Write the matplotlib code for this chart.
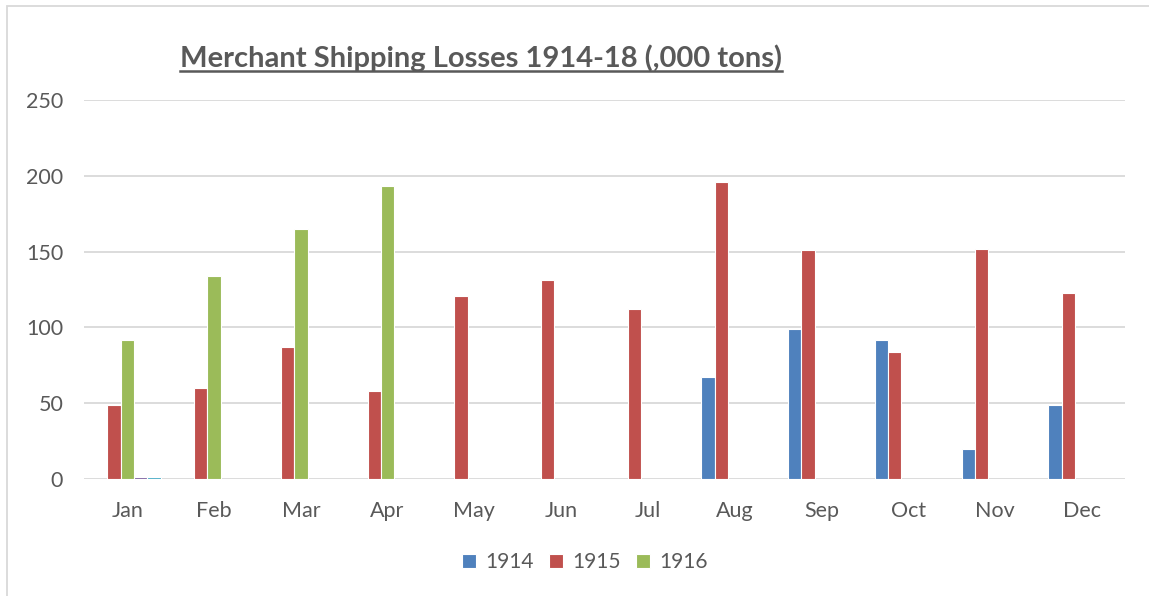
import numpy as np
import matplotlib
matplotlib.use("Agg")
import matplotlib.pyplot as plt
from matplotlib.patches import Rectangle
from matplotlib.lines import Line2D

months = ["Jan", "Feb", "Mar", "Apr", "May", "Jun", "Jul", "Aug", "Sep", "Oct", "Nov", "Dec"]
nan = np.nan
s1914 = [nan, nan, nan, nan, nan, nan, nan, 67, 99, 92, 20, 49]
s1915 = [49, 60, 87, 58, 121, 131, 112, 196, 151, 84, 152, 123]
s1916 = [92, 134, 165, 193, nan, nan, nan, nan, nan, nan, nan, nan]
s1917 = [1, nan, nan, nan, nan, nan, nan, nan, nan, nan, nan, nan]
s1918 = [1, nan, nan, nan, nan, nan, nan, nan, nan, nan, nan, nan]
series_names = ["1914", "1915", "1916", "1917", "1918"]
series_vals = [s1914, s1915, s1916, s1917, s1918]
colors = ["#4F81BD", "#C0504D", "#9BBB59", "#8064A2", "#4BACC6"]
title = "Merchant Shipping Losses 1914-18 (,000 tons)"

plt.rcParams['font.family'] = ['Lato', 'DejaVu Sans']
W, H = 1149, 596
fig = plt.figure(figsize=(W / 100, H / 100), dpi=100)
fig.patch.set_facecolor("white")

# outer chart border
fig.patches.append(Rectangle((7 / W, -0.05), 1.1, 1 - 6 / H + 0.05, transform=fig.transFigure,
                             fill=False, edgecolor="#D9D9D9", linewidth=1.3, zorder=0))

ax = fig.add_axes([84 / W, 1 - 479 / H, (1125 - 84) / W, (479 - 100) / H])
x = np.arange(len(months))
w = 1 / 6.5
handles = []
for i, (name, vals, c) in enumerate(zip(series_names, series_vals, colors)):
    b = ax.bar(x + (i - 2) * w, vals, width=w, color=c, edgecolor="white", linewidth=0.8,
               zorder=3, label=name)
    handles.append(b)

ax.set_xlim(-0.5, len(months) - 0.5)
ax.set_ylim(0, 250)
ax.set_yticks([0, 50, 100, 150, 200, 250])
ax.set_xticks(x)
ax.set_xticklabels(months)
ax.grid(axis="y", color="#D9D9D9", linewidth=1.3, zorder=0)
ax.set_axisbelow(True)
for s in ax.spines.values():
    s.set_visible(False)
ax.tick_params(axis="both", length=0, labelsize=15.5, colors="#595959")
ax.tick_params(axis="y", pad=15)
ax.tick_params(axis="x", pad=16)

leg = fig.legend(handles[:3], series_names[:3], loc="center", bbox_to_anchor=(585 / W, 1 - 562 / H),
                 ncol=3, frameon=False, fontsize=15, handlelength=0.65, handleheight=0.65,
                 handletextpad=0.45, columnspacing=0.75)
for t in leg.get_texts():
    t.set_color("#595959")

tt = fig.text(481 / W, 1 - 58 / H, title, ha="center", va="center", fontsize=21,
              fontweight="bold", color="#595959")
fig.canvas.draw()
bb = tt.get_window_extent()
yline = bb.y0 + 1
fig.lines.append(Line2D([bb.x0 / W, bb.x1 / W], [yline / H, yline / H], transform=fig.transFigure,
                        color="#595959", linewidth=1.8))

fig.savefig("out.png", dpi=100)
